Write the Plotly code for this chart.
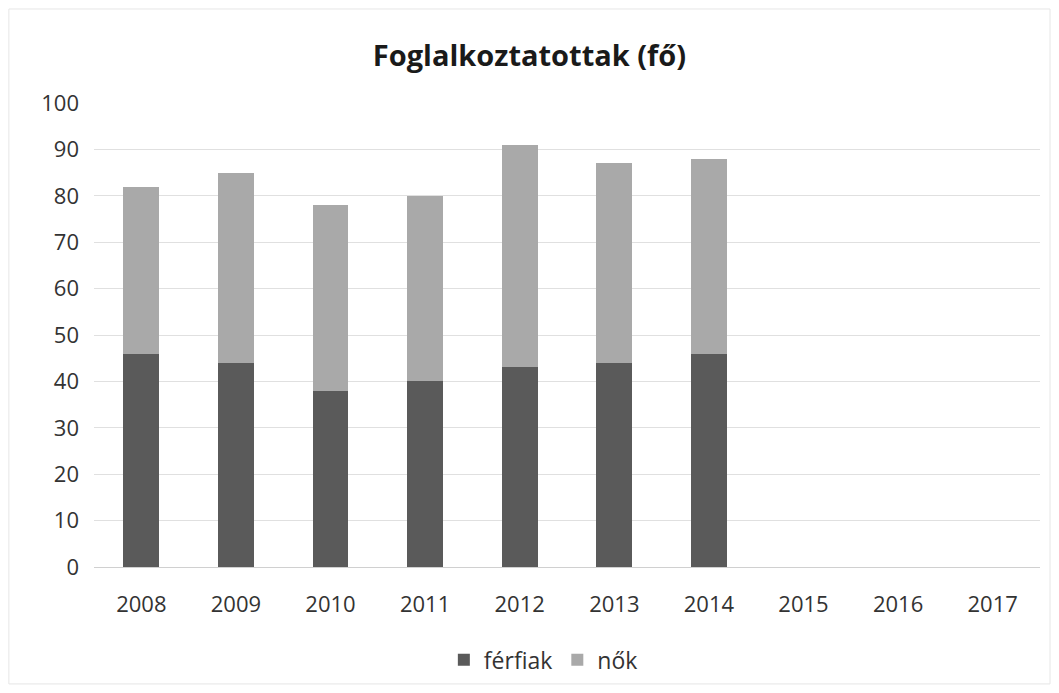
import plotly.graph_objects as go

years = ["2008", "2009", "2010", "2011", "2012", "2013", "2014", "2015", "2016", "2017"]
ferfiak = [46, 44, 38, 40, 43, 44, 46, None, None, None]
nok = [36, 41, 40, 40, 48, 43, 42, None, None, None]
y_ticks = [0, 10, 20, 30, 40, 50, 60, 70, 80, 90, 100]

font_family = "Open Sans, Lato, sans-serif"

fig = go.Figure()
fig.add_trace(go.Bar(x=years, y=ferfiak, name="férfiak", marker=dict(color="#5a5a5a", line=dict(width=0))))
fig.add_trace(go.Bar(x=years, y=nok, name="nők", marker=dict(color="#a9a9a9", line=dict(width=0))))

fig.update_layout(
    width=1043, height=677,
    barmode="stack", bargap=0.62,
    paper_bgcolor="white", plot_bgcolor="white",
    margin=dict(l=86, r=11, t=95, b=118, autoexpand=False),
    title=dict(text="<b>Foglalkoztatottak (fő)</b>", x=0.5, xanchor="center", y=0.93, yanchor="middle",
               font=dict(family=font_family, size=29, color="#1a1a1a")),
    font=dict(family=font_family, size=22, color="#333333"),
    xaxis=dict(categoryorder="array", categoryarray=years, showgrid=False, showline=True,
               linecolor="#d0d0d0", linewidth=1, ticks="", ticklabelstandoff=18, automargin=False,
               tickfont=dict(size=22, color="#333333")),
    yaxis=dict(range=[0, 100], tickvals=y_ticks, showgrid=True, gridcolor="#e0e0e0", gridwidth=1,
               zeroline=False, showline=False, ticks="", ticklabelstandoff=14, automargin=False,
               tickfont=dict(size=22, color="#333333")),
    legend=dict(orientation="h", x=0.475, xanchor="center", y=-0.2, yanchor="middle",
                font=dict(size=23, color="#333333"), traceorder="normal", itemwidth=30),
    shapes=[dict(type="rect", xref="paper", yref="paper", x0=-0.09, x1=1.0106, y0=-0.252, y1=1.2026,
                 line=dict(color="#e6e6e6", width=1))],
)

fig.write_html("out.html")
